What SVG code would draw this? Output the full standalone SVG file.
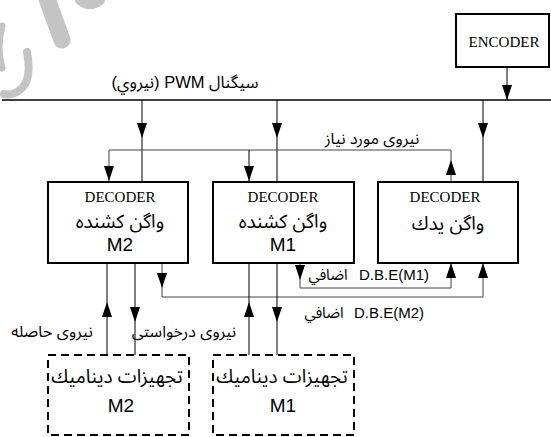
<svg xmlns="http://www.w3.org/2000/svg" width="551" height="437" viewBox="0 0 551 437">
<style>
.box{fill:#fff;stroke:#000;stroke-width:2}
.dbox{fill:#fff;stroke:#000;stroke-width:2;stroke-dasharray:8 5}
.ln{fill:none;stroke:#000;stroke-width:1}
.gl{fill:none;stroke:#444;stroke-width:1}
.bus{fill:none;stroke:#000;stroke-width:1.6}
.ser{font-family:"Liberation Serif","Times New Roman",serif;font-size:15px;fill:#000;text-anchor:middle}
.ar{font-family:"Liberation Sans","Noto Sans Arabic","DejaVu Sans",sans-serif;font-size:19px;fill:#000;text-anchor:middle}
.lb{font-family:"Liberation Sans","Noto Sans Arabic","DejaVu Sans",sans-serif;font-size:15px;fill:#000}
.wm{fill:none;stroke:#c4c4c4;stroke-linecap:round}
</style>
<defs>
<path id="ah" d="M-5,-15 L5,-15 L0,0 Z" fill="#000"/>
</defs>
<g id="watermark">
<path class="wm" d="M46,-4 L62,40" stroke-width="17"/>
<path class="wm" d="M80,0 Q90,8 100,0" stroke-width="10"/>
<path class="wm" d="M27,52 Q32,78 22,88 Q14,96 4,94" stroke-width="8"/>
<path class="wm" d="M2,26 Q-4,48 2,68" stroke-width="7"/>
</g>
<g id="connectors">
<line class="bus" x1="2" y1="100" x2="551" y2="100"/>
<line class="ln" x1="507" y1="67" x2="507" y2="100"/>
<use href="#ah" x="507" y="100"/>
<line class="ln" x1="142" y1="100" x2="142" y2="182"/>
<use href="#ah" x="142" y="138"/>
<line class="ln" x1="277" y1="100" x2="277" y2="182"/>
<use href="#ah" x="277" y="138"/>
<line class="ln" x1="483" y1="100" x2="483" y2="182"/>
<use href="#ah" x="483" y="138"/>
<polyline class="gl" points="109,182 109,150 451,150 451,182"/>
<line class="ln" x1="249" y1="150" x2="249" y2="182"/>
<use href="#ah" x="109" y="181"/>
<use href="#ah" x="249" y="181"/>
<use href="#ah" transform="translate(451,160) rotate(180)"/>
<polyline class="gl" points="300,263 300,288 451,288 451,263"/>
<use href="#ah" x="300" y="280"/>
<use href="#ah" transform="translate(451,263) rotate(180)"/>
<polyline class="gl" points="162,263 162,297 483,297 483,263"/>
<use href="#ah" x="162" y="288"/>
<use href="#ah" transform="translate(483,263) rotate(180)"/>
<line class="ln" x1="107" y1="263" x2="107" y2="355"/>
<use href="#ah" transform="translate(107,302) rotate(180)"/>
<line class="ln" x1="135" y1="263" x2="135" y2="355"/>
<use href="#ah" x="135" y="322"/>
<line class="ln" x1="249" y1="263" x2="249" y2="355"/>
<use href="#ah" transform="translate(249,302) rotate(180)"/>
<line class="ln" x1="277" y1="263" x2="277" y2="355"/>
<use href="#ah" x="277" y="322"/>
</g>
<g id="labels">
<text class="lb" x="185" y="88" text-anchor="middle" direction="rtl" style="font-size:16.5px">سيگنال PWM (نيروي)</text>
<text class="lb" x="372" y="144" text-anchor="middle" style="font-size:16px">نیروی مورد نیاز</text>
<text class="lb" x="328" y="280" text-anchor="middle">اضافي</text>
<text class="lb" x="394" y="280" text-anchor="middle">D.B.E(M1)</text>
<text class="lb" x="324" y="318" text-anchor="middle">اضافي</text>
<text class="lb" x="389" y="318" text-anchor="middle">D.B.E(M2)</text>
<text class="lb" x="52" y="337" text-anchor="middle" style="font-size:16px">نیروی حاصله</text>
<text class="lb" x="184" y="337" text-anchor="middle" style="font-size:16px">نیروی درخواستی</text>
</g>
<g id="encoder">
<rect class="box" x="456" y="14" width="93" height="53"/>
<text class="ser" x="504" y="47">ENCODER</text>
</g>
<g id="decoder-m2">
<rect class="box" x="48" y="182" width="140" height="81"/>
<text class="ser" x="120" y="202">DECODER</text>
<text class="ar" x="120" y="228">واگن كشنده</text>
<text class="ar" x="120" y="251">M2</text>
</g>
<g id="decoder-m1">
<rect class="box" x="213" y="182" width="141" height="81"/>
<text class="ser" x="283" y="202">DECODER</text>
<text class="ar" x="283" y="228">واگن كشنده</text>
<text class="ar" x="283" y="251">M1</text>
</g>
<g id="decoder-yadak">
<rect class="box" x="378" y="182" width="140" height="81"/>
<text class="ser" x="445" y="202">DECODER</text>
<text class="ar" x="448" y="230">واگن يدك</text>
</g>
<g id="dyn-m2">
<rect class="dbox" x="48" y="355" width="141" height="80"/>
<text class="ar" x="117" y="383">تجهيزات ديناميك</text>
<text class="ar" x="121" y="412">M2</text>
</g>
<g id="dyn-m1">
<rect class="dbox" x="213" y="355" width="141" height="80"/>
<text class="ar" x="282" y="383">تجهيزات ديناميك</text>
<text class="ar" x="283" y="412">M1</text>
</g>
</svg>
